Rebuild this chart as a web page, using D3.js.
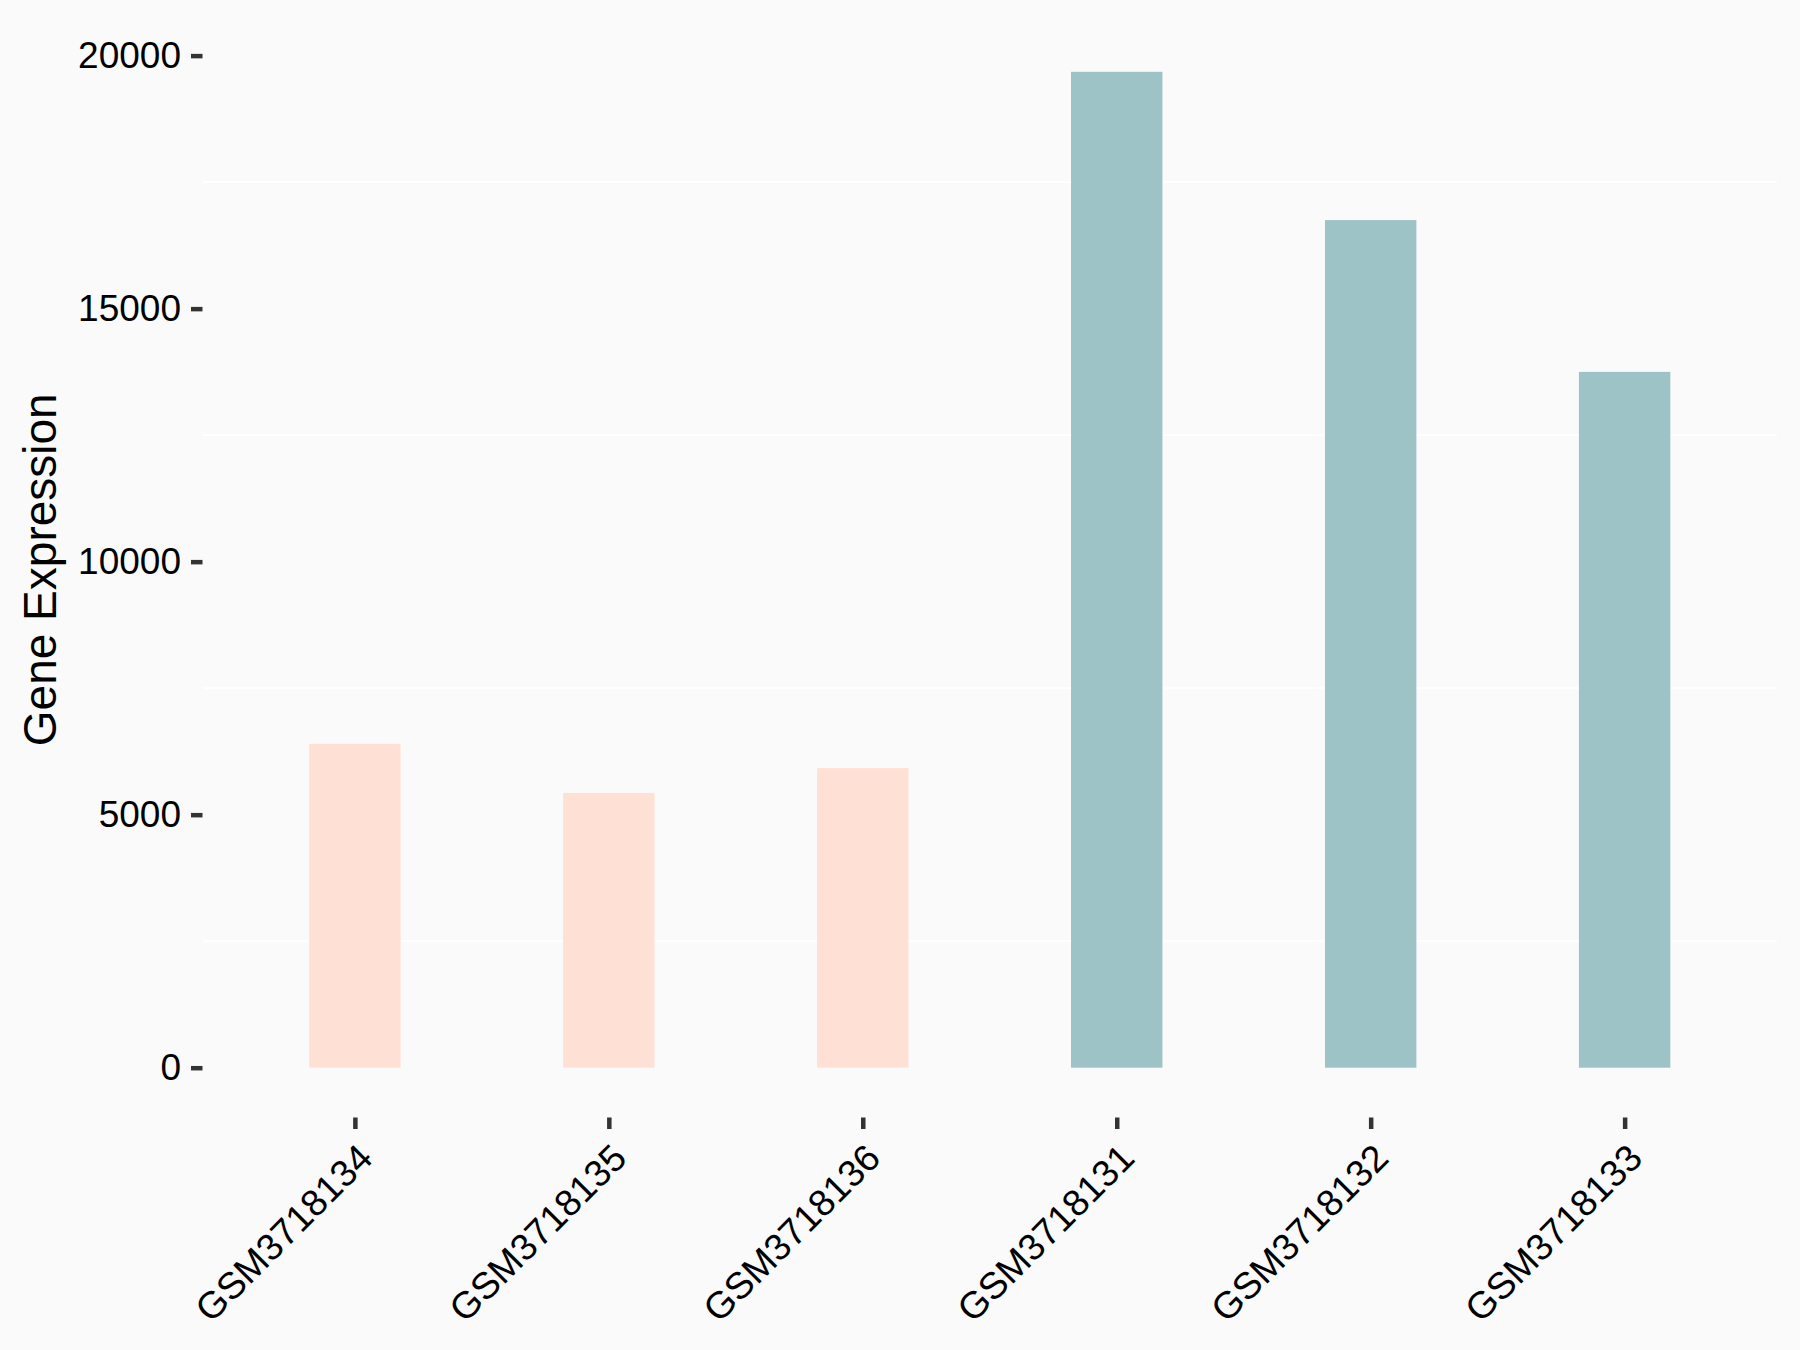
<!DOCTYPE html>
<html>
<head>
<meta charset="utf-8">
<script src="https://cdn.jsdelivr.net/npm/d3@7/dist/d3.min.js"></script>
<style>
  html, body { margin: 0; padding: 0; background: #FAFAFA; }
  svg { display: block; }
  text { font-family: "Liberation Sans", Arial, sans-serif; fill: #000; }
</style>
</head>
<body>
<svg id="chart" width="1800" height="1350"></svg>
<script>
// ---- data ----
const samples = ["GSM3718134", "GSM3718135", "GSM3718136", "GSM3718131", "GSM3718132", "GSM3718133"];
const expression = [6400, 5430, 5920, 19680, 16750, 13750];
const groups = ["low", "low", "low", "high", "high", "high"];
const groupColors = { low: "#FFE0D5", high: "#9DC3C7" };
const yTicks = [0, 5000, 10000, 15000, 20000];
const yMinorGrid = [2500, 7500, 12500, 17500];
const yTitle = "Gene Expression";

// ---- layout ----
const W = 1800, H = 1350;
const panel = { left: 202.5, right: 1777, top: 22, bottom: 1117.5 };

const svg = d3.select("#chart");
svg.append("rect").attr("width", W).attr("height", H).attr("fill", "#FAFAFA");

// x: discrete with 0.6 expansion each side
const xIdx = d3.scaleLinear()
  .domain([0.4, samples.length + 0.6])
  .range([panel.left, panel.right]);
const xPos = d => xIdx(samples.indexOf(d) + 1);
const unitW = xIdx(2) - xIdx(1);
const barW = unitW * 0.36;

// y: continuous with 5% expansion
const yMax = d3.max(expression);
const y = d3.scaleLinear()
  .domain([-yMax * 0.05, yMax * 1.05])
  .range([panel.bottom, panel.top]);

// minor grid lines
svg.append("g").selectAll("line").data(yMinorGrid).join("line")
  .attr("x1", panel.left).attr("x2", panel.right)
  .attr("y1", d => y(d)).attr("y2", d => y(d))
  .attr("stroke", "#FFFFFF").attr("stroke-width", 2);

// bars
svg.append("g").selectAll("rect").data(samples).join("rect")
  .attr("x", d => xPos(d) - barW / 2)
  .attr("width", barW)
  .attr("y", (d, i) => y(expression[i]))
  .attr("height", (d, i) => y(0) - y(expression[i]))
  .attr("fill", (d, i) => groupColors[groups[i]]);

// y axis
const yAxis = d3.axisLeft(y).tickValues(yTicks).tickSize(11.5).tickPadding(10).tickFormat(d3.format("d"));
const gy = svg.append("g").attr("transform", `translate(${panel.left},0)`).call(yAxis);
gy.select(".domain").remove();
gy.selectAll(".tick line").attr("stroke", "#333333").attr("stroke-width", 4.5);
gy.selectAll(".tick text").attr("font-size", "37px").attr("fill", "#000")
  .attr("font-family", '"Liberation Sans", Arial, sans-serif');

// x axis
const xBand = d3.scalePoint().domain(samples).range([xPos(samples[0]), xPos(samples[samples.length - 1])]);
const xAxis = d3.axisBottom(xBand).tickSize(11.5).tickFormat(d => d);
const gx = svg.append("g").attr("transform", `translate(0,${panel.bottom})`).call(xAxis);
gx.select(".domain").remove();
gx.selectAll(".tick line").attr("stroke", "#333333").attr("stroke-width", 4.5);
gx.selectAll(".tick text")
  .attr("font-size", "37.5px").attr("fill", "#000")
  .attr("font-family", '"Liberation Sans", Arial, sans-serif')
  .attr("text-anchor", "end")
  .attr("y", 0).attr("x", 0).attr("dy", "24.5px")
  .attr("transform", "translate(2,25.5) rotate(-45)");

// y title
svg.append("text")
  .attr("transform", `translate(56,${(panel.top + panel.bottom) / 2}) rotate(-90)`)
  .attr("text-anchor", "middle")
  .attr("font-size", "46px")
  .text(yTitle);
</script>
</body>
</html>
